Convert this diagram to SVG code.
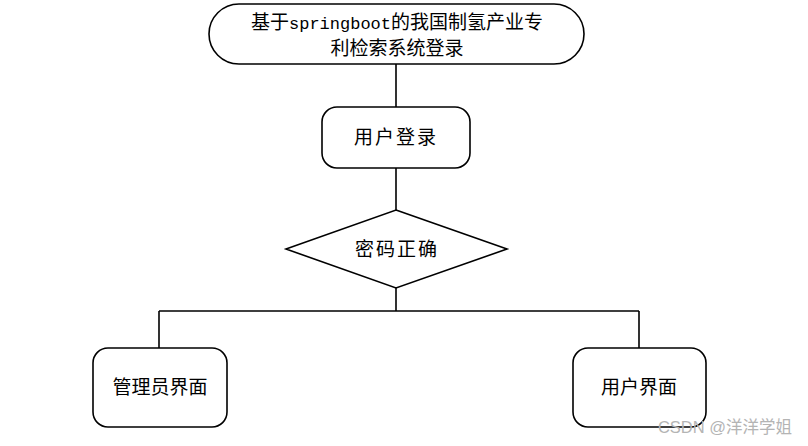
<svg xmlns="http://www.w3.org/2000/svg" width="808" height="446" viewBox="0 0 808 446">
<style>
.n{fill:#fff;stroke:#000;stroke-width:1.6}
.t{font-family:"Liberation Serif","Noto Sans CJK SC",serif;font-size:19px;fill:#000;text-anchor:middle}
.c{fill:none;stroke:#000;stroke-width:1.6}
</style>
<rect width="808" height="446" fill="#fff"/>
<g id="connectors">
<path class="c" d="M396 64V107M396 168V210M396 288V311M159 311H639M159 311V348M639 311V348"/>
</g>
<g id="title">
<rect class="n" x="209" y="4" width="375" height="60" rx="30"/>
<text class="t" x="397" y="29" font-size="20.5">基于<tspan font-family="Liberation Mono" font-size="17">springboot</tspan>的我国制氢产业专</text>
<text class="t" x="397" y="55" font-size="20.5">利检索系统登录</text>
</g>
<g id="login">
<rect class="n" x="322" y="107" width="148" height="61" rx="15"/>
<text class="t" x="396" y="144" letter-spacing="2">用户登录</text>
</g>
<g id="check">
<polygon class="n" points="396,210 507,249 396,288 286,249"/>
<text class="t" x="397" y="256" letter-spacing="2">密码正确</text>
</g>
<g id="admin">
<rect class="n" x="93" y="348" width="134" height="79" rx="15"/>
<text class="t" x="160" y="394">管理员界面</text>
</g>
<g id="user">
<rect class="n" x="573" y="348" width="133" height="79" rx="15"/>
<text class="t" x="639" y="394">用户界面</text>
</g>
<text x="792" y="433" font-family="Liberation Sans,'Noto Sans CJK SC',sans-serif" font-size="16.5" fill="#b4b4b4" text-anchor="end">CSDN @洋洋学姐</text>
</svg>
